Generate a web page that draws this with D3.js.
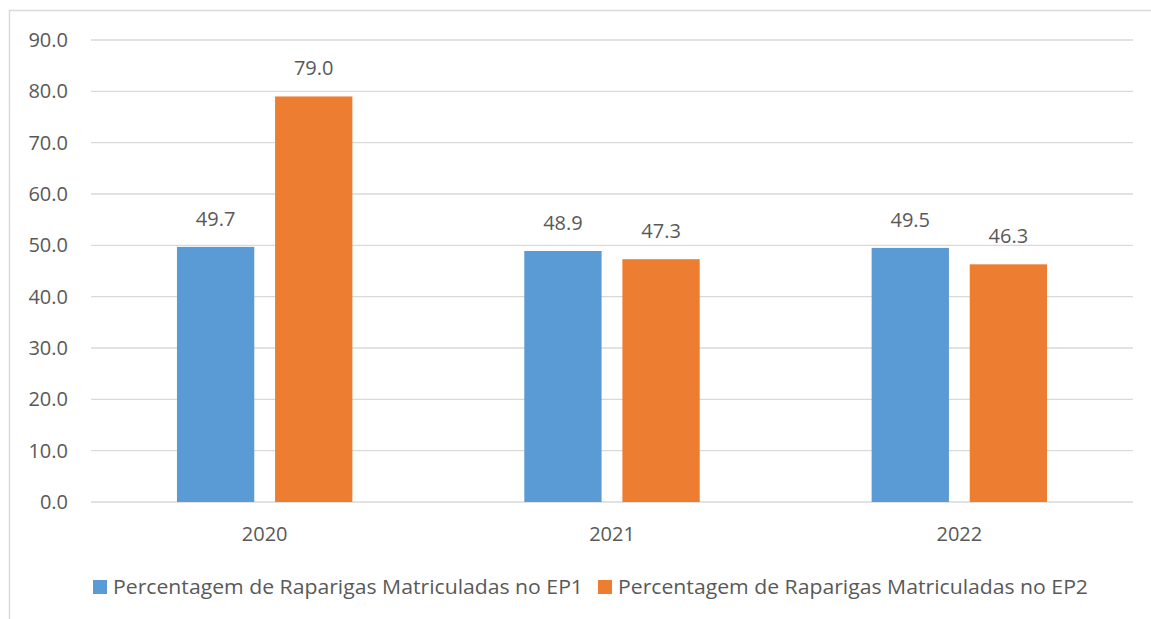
<!DOCTYPE html>
<html>
<head>
<meta charset="utf-8">
<script src="https://cdn.jsdelivr.net/npm/d3@7"></script>
<style>
  body { margin: 0; background: #fff; }
  svg text { font-family: "Open Sans", sans-serif; fill: #595959; }
</style>
</head>
<body>
<svg id="chart" width="1151" height="619"></svg>
<script>
const years = ['2020', '2021', '2022']
const seriesNames = ['Percentagem de Raparigas Matriculadas no EP1', 'Percentagem de Raparigas Matriculadas no EP2']
const ep1 = [49.7, 48.9, 49.5]
const ep2 = [79.0, 47.3, 46.3]
const yTicks = [0, 10, 20, 30, 40, 50, 60, 70, 80, 90]
const colors = ['#5B9BD5', '#ED7D31']

const svg = d3.select('#chart')
const plot = { left: 91, right: 1133, top: 40, bottom: 502 }
const fs = '20px'

// outer frame
svg.append('rect')
  .attr('x', 9.5).attr('y', 10.5)
  .attr('width', 1160).attr('height', 640)
  .attr('fill', 'none').attr('stroke', '#d9d9d9').attr('stroke-width', 1.5)

const y = d3.scaleLinear().domain([0, 90]).range([plot.bottom, plot.top])
const x0 = d3.scaleBand().domain(years).range([plot.left, plot.right])
const bw = x0.bandwidth()
const x1 = d3.scaleBand().domain([0, 1])
  .range([bw * 0.2475, bw * 0.7525]).paddingInner(0.212)

// gridlines
svg.append('g')
  .selectAll('line')
  .data(yTicks)
  .join('line')
  .attr('x1', plot.left).attr('x2', plot.right)
  .attr('y1', d => y(d)).attr('y2', d => y(d))
  .attr('stroke', '#d9d9d9').attr('stroke-width', 1.3)

svg.append('g')
  .selectAll('text')
  .data(yTicks)
  .join('text')
  .attr('x', 68).attr('y', d => y(d))
  .attr('dy', '0.35em')
  .attr('text-anchor', 'end')
  .style('font-size', fs)
  .text(d => d.toFixed(1))

const rows = years.map((yr, i) => ({ year: yr, vals: [ep1[i], ep2[i]] }))

const groups = svg.append('g')
  .selectAll('g')
  .data(rows)
  .join('g')
  .attr('transform', d => `translate(${x0(d.year)},0)`)

groups.selectAll('rect')
  .data(d => d.vals.map((v, s) => ({ v, s })))
  .join('rect')
  .attr('x', d => x1(d.s))
  .attr('width', x1.bandwidth())
  .attr('y', d => y(d.v))
  .attr('height', d => y(0) - y(d.v))
  .attr('fill', d => colors[d.s])

groups.selectAll('text.val')
  .data(d => d.vals.map((v, s) => ({ v, s })))
  .join('text')
  .attr('class', 'val')
  .attr('x', d => x1(d.s) + x1.bandwidth() / 2)
  .attr('y', d => y(d.v) - 21)
  .attr('text-anchor', 'middle')
  .style('font-size', fs)
  .text(d => d.v.toFixed(1))

// category labels
svg.append('g')
  .selectAll('text')
  .data(years)
  .join('text')
  .attr('x', d => x0(d) + bw / 2)
  .attr('y', 534)
  .attr('dy', '0.35em')
  .attr('text-anchor', 'middle')
  .style('font-size', fs)
  .text(d => d)

// legend
const legendX = [93, 598]
const legend = svg.append('g')
  .selectAll('g')
  .data(seriesNames)
  .join('g')
  .attr('transform', (d, i) => `translate(${legendX[i]},587)`)

legend.append('rect')
  .attr('x', 0).attr('y', -7)
  .attr('width', 14).attr('height', 14)
  .attr('fill', (d, i) => colors[i])

legend.append('text')
  .attr('x', 20).attr('dy', '0.35em')
  .attr('textLength', 470)
  .attr('lengthAdjust', 'spacingAndGlyphs')
  .style('font-size', fs)
  .text(d => d)
</script>
</body>
</html>
